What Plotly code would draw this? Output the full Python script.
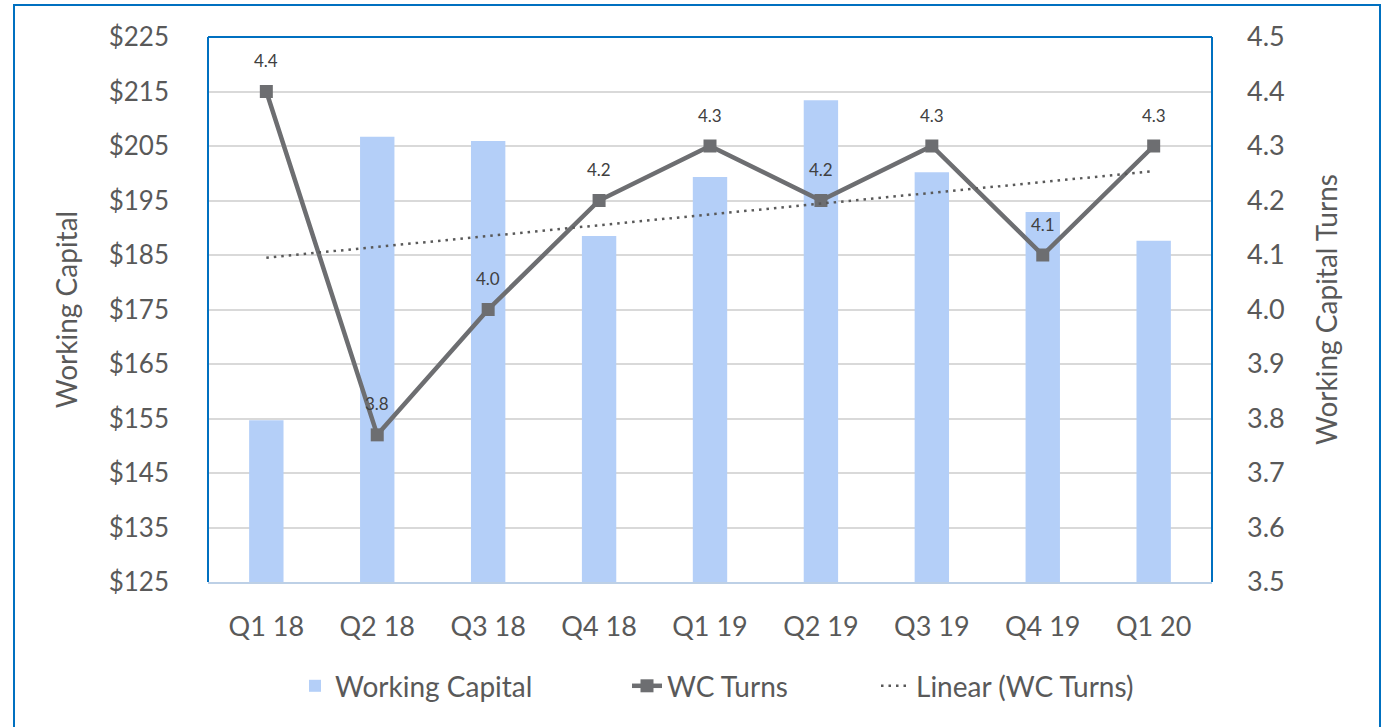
import numpy as np
import plotly.graph_objects as go

quarters = ["Q1 18", "Q2 18", "Q3 18", "Q4 18", "Q1 19", "Q2 19", "Q3 19", "Q4 19", "Q1 20"]
working_capital = [154.7, 206.7, 205.9, 188.5, 199.3, 213.4, 200.2, 192.9, 187.6]
wc_turns = [4.4, 3.77, 4.0, 4.2, 4.3, 4.2, 4.3, 4.1, 4.3]
wc_turn_labels = ["4.4", "3.8", "4.0", "4.2", "4.3", "4.2", "4.3", "4.1", "4.3"]

# linear trendline over the WC Turns series
xi = np.arange(1, len(wc_turns) + 1)
slope, intercept = np.polyfit(xi, wc_turns, 1)
trend = list(intercept + slope * xi)

FONT = "Lato"
GREY = "#595959"
LINE = "#6d6e71"
BLUE = "#0070C0"

fig = go.Figure()
fig.add_trace(go.Bar(
    x=quarters, y=working_capital, name="Working Capital",
    marker=dict(color="#b4cff8", line=dict(width=0)), width=0.31, yaxis="y",
    legend="legend",
))
fig.add_trace(go.Scatter(
    x=quarters, y=wc_turns, name="WC Turns", mode="lines+markers",
    line=dict(color=LINE, width=4.5), marker=dict(symbol="square", size=13, color=LINE),
    yaxis="y2", legend="legend2",
))
fig.add_trace(go.Scatter(
    x=quarters, y=trend, name="Linear (WC Turns)", mode="lines",
    line=dict(color=GREY, width=2.5, dash="2.5px,5px"), yaxis="y2", legend="legend3",
))

for q, v, t in zip(quarters, wc_turns, wc_turn_labels):
    fig.add_annotation(x=q, y=v, yref="y2", text=t, showarrow=False, yshift=31,
                       font=dict(family=FONT, size=17, color="#404040"))

# plot-area border (left, top, right)
for x0, y0, x1, y1 in [(0, 0, 0, 1), (0, 1, 1, 1), (1, 0, 1, 1)]:
    fig.add_shape(type="line", xref="paper", yref="paper", x0=x0, y0=y0, x1=x1, y1=y1,
                  line=dict(color=BLUE, width=2))
# outer chart frame
fig.add_shape(type="rect", xref="paper", yref="paper",
              x0=(14 - 208) / 1004, x1=(1380 - 208) / 1004,
              y0=(582 - 740) / 545, y1=(582 - 5) / 545,
              line=dict(color=BLUE, width=2))

legend_common = dict(orientation="h", xanchor="left", y=-0.191, yanchor="middle",
                     font=dict(family=FONT, size=28, color=GREY), bgcolor="rgba(0,0,0,0)")

fig.update_layout(
    width=1394, height=727,
    margin=dict(l=208, r=182, t=37, b=145, autoexpand=False),
    paper_bgcolor="white", plot_bgcolor="white",
    font=dict(family=FONT, color=GREY),
    bargap=0.69,
    showlegend=True,
    legend=dict(x=(295 - 208) / 1004, **legend_common),
    legend2=dict(x=(627 - 208) / 1004, **legend_common),
    legend3=dict(x=(876 - 208) / 1004, **legend_common),
    xaxis=dict(showgrid=False, showline=True, linecolor="#bdd0e6", linewidth=2,
               ticks="", tickfont=dict(family=FONT, size=27, color=GREY),
               ticklabelstandoff=20),
    yaxis=dict(range=[125, 225], tick0=125, dtick=10, tickprefix="$", showgrid=True,
               gridcolor="#d9d9d9", gridwidth=1.5, zeroline=False,
               tickfont=dict(family=FONT, size=26, color=GREY), ticklabelstandoff=38,
               title=dict(text="Working Capital", font=dict(family=FONT, size=28, color=GREY),
                          standoff=22)),
    yaxis2=dict(range=[3.5, 4.5], dtick=0.1, tickformat=".1f", overlaying="y", side="right",
                showgrid=False, zeroline=False,
                tickfont=dict(family=FONT, size=27, color=GREY), ticklabelstandoff=34,
                title=dict(text="Working Capital Turns", font=dict(family=FONT, size=28, color=GREY),
                           standoff=33)),
)

fig.write_html("out.html", config={"displayModeBar": False},
               post_script="document.body.style.margin='0';document.body.style.overflow='hidden';")
